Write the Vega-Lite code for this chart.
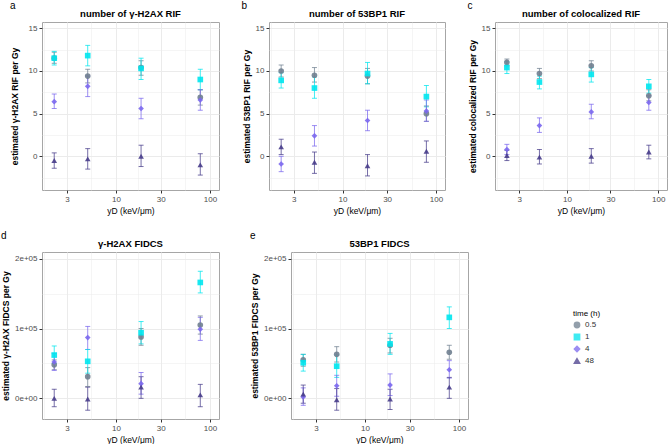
{
  "$schema": "https://vega.github.io/schema/vega-lite/v6.json",
  "padding": {"left": 1, "top": 1, "right": 0, "bottom": 0},
  "datasets": {
    "all": [
      {"p":"a","x":2.2,"t":"0.5","y":11.5,"lo":10.9,"hi":12.2},
      {"p":"a","x":2.2,"t":"1","y":11.5,"lo":10.7,"hi":12.3},
      {"p":"a","x":2.2,"t":"4","y":6.4,"lo":5.6,"hi":7.3},
      {"p":"a","x":2.2,"t":"48","y":-0.5,"lo":-1.4,"hi":0.4},
      {"p":"a","x":5,"t":"0.5","y":9.4,"lo":8.6,"hi":10.2},
      {"p":"a","x":5,"t":"1","y":11.8,"lo":10.6,"hi":13.0},
      {"p":"a","x":5,"t":"4","y":8.2,"lo":7.0,"hi":9.4},
      {"p":"a","x":5,"t":"48","y":-0.3,"lo":-1.5,"hi":0.9},
      {"p":"a","x":18.5,"t":"0.5","y":10.4,"lo":9.5,"hi":11.2},
      {"p":"a","x":18.5,"t":"1","y":10.3,"lo":9.0,"hi":11.5},
      {"p":"a","x":18.5,"t":"4","y":5.6,"lo":4.4,"hi":6.8},
      {"p":"a","x":18.5,"t":"48","y":0.0,"lo":-1.2,"hi":1.3},
      {"p":"a","x":79,"t":"0.5","y":6.9,"lo":6.0,"hi":7.8},
      {"p":"a","x":79,"t":"1","y":9.0,"lo":7.8,"hi":10.2},
      {"p":"a","x":79,"t":"4","y":6.6,"lo":5.4,"hi":7.8},
      {"p":"a","x":79,"t":"48","y":-1.0,"lo":-2.2,"hi":0.3},

      {"p":"b","x":2.2,"t":"0.5","y":10.0,"lo":9.3,"hi":10.7},
      {"p":"b","x":2.2,"t":"1","y":8.9,"lo":8.0,"hi":9.8},
      {"p":"b","x":2.2,"t":"4","y":-0.9,"lo":-1.8,"hi":0.0},
      {"p":"b","x":2.2,"t":"48","y":1.1,"lo":0.2,"hi":2.0},
      {"p":"b","x":5,"t":"0.5","y":9.5,"lo":8.7,"hi":10.4},
      {"p":"b","x":5,"t":"1","y":8.0,"lo":6.8,"hi":9.3},
      {"p":"b","x":5,"t":"4","y":2.4,"lo":1.2,"hi":3.6},
      {"p":"b","x":5,"t":"48","y":-0.7,"lo":-2.0,"hi":0.5},
      {"p":"b","x":18.5,"t":"0.5","y":9.4,"lo":8.5,"hi":10.3},
      {"p":"b","x":18.5,"t":"1","y":9.7,"lo":8.5,"hi":11.0},
      {"p":"b","x":18.5,"t":"4","y":4.2,"lo":3.0,"hi":5.4},
      {"p":"b","x":18.5,"t":"48","y":-1.1,"lo":-2.3,"hi":0.2},
      {"p":"b","x":79,"t":"0.5","y":5.0,"lo":4.1,"hi":5.9},
      {"p":"b","x":79,"t":"1","y":7.0,"lo":5.8,"hi":8.3},
      {"p":"b","x":79,"t":"4","y":5.3,"lo":4.1,"hi":6.6},
      {"p":"b","x":79,"t":"48","y":0.6,"lo":-0.7,"hi":1.8},

      {"p":"c","x":2.2,"t":"0.5","y":11.0,"lo":10.6,"hi":11.4},
      {"p":"c","x":2.2,"t":"1","y":10.4,"lo":9.7,"hi":11.1},
      {"p":"c","x":2.2,"t":"4","y":0.8,"lo":0.2,"hi":1.4},
      {"p":"c","x":2.2,"t":"48","y":0.1,"lo":-0.5,"hi":0.7},
      {"p":"c","x":5,"t":"0.5","y":9.7,"lo":9.1,"hi":10.3},
      {"p":"c","x":5,"t":"1","y":8.7,"lo":7.9,"hi":9.4},
      {"p":"c","x":5,"t":"4","y":3.6,"lo":2.8,"hi":4.5},
      {"p":"c","x":5,"t":"48","y":-0.1,"lo":-0.9,"hi":0.8},
      {"p":"c","x":18.5,"t":"0.5","y":10.6,"lo":10.0,"hi":11.2},
      {"p":"c","x":18.5,"t":"1","y":9.6,"lo":8.7,"hi":10.4},
      {"p":"c","x":18.5,"t":"4","y":5.2,"lo":4.4,"hi":6.1},
      {"p":"c","x":18.5,"t":"48","y":0.0,"lo":-0.8,"hi":0.9},
      {"p":"c","x":79,"t":"0.5","y":7.1,"lo":6.5,"hi":7.8},
      {"p":"c","x":79,"t":"1","y":8.2,"lo":7.4,"hi":9.0},
      {"p":"c","x":79,"t":"4","y":6.3,"lo":5.4,"hi":7.1},
      {"p":"c","x":79,"t":"48","y":0.5,"lo":-0.3,"hi":1.3},

      {"p":"d","x":2.2,"t":"0.5","y":48000,"lo":41000,"hi":55000},
      {"p":"d","x":2.2,"t":"1","y":62000,"lo":50000,"hi":75000},
      {"p":"d","x":2.2,"t":"4","y":52000,"lo":40000,"hi":64000},
      {"p":"d","x":2.2,"t":"48","y":0,"lo":-12000,"hi":13000},
      {"p":"d","x":5,"t":"0.5","y":31000,"lo":17000,"hi":44000},
      {"p":"d","x":5,"t":"1","y":53000,"lo":36000,"hi":70000},
      {"p":"d","x":5,"t":"4","y":87000,"lo":70000,"hi":103000},
      {"p":"d","x":5,"t":"48","y":-1000,"lo":-17000,"hi":16000},
      {"p":"d","x":18.5,"t":"0.5","y":88000,"lo":76000,"hi":100000},
      {"p":"d","x":18.5,"t":"1","y":94000,"lo":78000,"hi":110000},
      {"p":"d","x":18.5,"t":"4","y":21000,"lo":6000,"hi":37000},
      {"p":"d","x":18.5,"t":"48","y":16000,"lo":0,"hi":31000},
      {"p":"d","x":79,"t":"0.5","y":105000,"lo":92000,"hi":118000},
      {"p":"d","x":79,"t":"1","y":166000,"lo":151000,"hi":182000},
      {"p":"d","x":79,"t":"4","y":99000,"lo":83000,"hi":116000},
      {"p":"d","x":79,"t":"48","y":5000,"lo":-12000,"hi":20000},

      {"p":"e","x":2.2,"t":"0.5","y":55000,"lo":46000,"hi":63000},
      {"p":"e","x":2.2,"t":"1","y":51000,"lo":39000,"hi":63000},
      {"p":"e","x":2.2,"t":"4","y":2000,"lo":-10000,"hi":15000},
      {"p":"e","x":2.2,"t":"48","y":6000,"lo":-7000,"hi":19000},
      {"p":"e","x":5,"t":"0.5","y":63000,"lo":52000,"hi":74000},
      {"p":"e","x":5,"t":"1","y":46000,"lo":30000,"hi":62000},
      {"p":"e","x":5,"t":"4","y":18000,"lo":3000,"hi":33000},
      {"p":"e","x":5,"t":"48","y":-2000,"lo":-17000,"hi":14000},
      {"p":"e","x":18.5,"t":"0.5","y":76000,"lo":65000,"hi":86000},
      {"p":"e","x":18.5,"t":"1","y":78000,"lo":63000,"hi":93000},
      {"p":"e","x":18.5,"t":"4","y":19000,"lo":4000,"hi":35000},
      {"p":"e","x":18.5,"t":"48","y":-1000,"lo":-16000,"hi":13000},
      {"p":"e","x":79,"t":"0.5","y":66000,"lo":56000,"hi":76000},
      {"p":"e","x":79,"t":"1","y":116000,"lo":100000,"hi":131000},
      {"p":"e","x":79,"t":"4","y":41000,"lo":29000,"hi":54000},
      {"p":"e","x":79,"t":"48","y":16000,"lo":0,"hi":30000}
    ]
  },
  "spacing": 16,
  "vconcat": [
    {
      "spacing": 21,
      "hconcat": [
        {
          "title": {"text": "a", "anchor": "start", "frame": "bounds", "fontSize": 10, "fontWeight": "normal", "offset": -3},
          "vconcat": [{
            "width": 177, "height": 168,
            "title": "number of γ-H2AX RIF",
            "data": {"name": "all"},
            "transform": [{"filter": "datum.p == 'a'"}],
            "encoding": {
              "x": {"field": "x", "type": "quantitative", "scale": {"type": "log", "domain": [1.63, 125], "nice": false},
                "axis": {"title": "yD (keV/μm)", "values": [1.732, 3, 5.477, 10, 17.32, 30, 54.77, 100], "labelExpr": "indexof([3,10,30,100], datum.value) >= 0 ? '' + datum.value : ''", "tickOpacity": {"condition": {"test": "indexof([3,10,30,100], datum.value) >= 0", "value": 1}, "value": 0}, "gridWidth": {"condition": {"test": "indexof([3,10,30,100], datum.value) >= 0", "value": 1}, "value": 0.5}, "labelOverlap": false, "labelFlush": false}},
              "color": {"field": "t", "type": "nominal", "title": "time (h)", "scale": {"domain": ["0.5", "1", "4", "48"], "range": ["#708090", "#00E5EE", "#7B68EE", "#483D8B"]}}
            },
            "layer": [
              {"mark": {"type": "errorbar", "ticks": {"size": 5}, "opacity": 0.75},
               "encoding": {"y": {"field": "lo", "type": "quantitative", "scale": {"domain": [-3.95, 15.74], "nice": false, "zero": false},
                 "axis": {"title": "estimated γ-H2AX RIF per Gy", "titlePadding": 8.5, "tickCount": 20, "values": [-2.5, 0, 2.5, 5, 7.5, 10, 12.5, 15], "labelExpr": "indexof([0,5,10,15], datum.value) >= 0 ? '' + datum.value : ''", "tickOpacity": {"condition": {"test": "indexof([0,5,10,15], datum.value) >= 0", "value": 1}, "value": 0}, "gridWidth": {"condition": {"test": "indexof([0,5,10,15], datum.value) >= 0", "value": 1}, "value": 0.5}, "labelOverlap": false, "labelFlush": false}},
                 "y2": {"field": "hi"}}},
              {"mark": {"type": "point", "filled": true, "size": 32, "opacity": 0.9},
               "encoding": {"y": {"field": "y", "type": "quantitative", "title": "estimated γ-H2AX RIF per Gy"},
                 "shape": {"field": "t", "type": "nominal", "title": "time (h)", "scale": {"domain": ["0.5", "1", "4", "48"], "range": ["circle", "square", "diamond", "triangle-up"]}}}}
            ]
          }]
        },
        {
          "title": {"text": "b", "anchor": "start", "frame": "bounds", "fontSize": 10, "fontWeight": "normal", "offset": -3},
          "vconcat": [{
            "width": 176, "height": 168,
            "title": "number of 53BP1 RIF",
            "data": {"name": "all"},
            "transform": [{"filter": "datum.p == 'b'"}],
            "encoding": {
              "x": {"field": "x", "type": "quantitative", "scale": {"type": "log", "domain": [1.63, 125], "nice": false},
                "axis": {"title": "yD (keV/μm)", "values": [1.732, 3, 5.477, 10, 17.32, 30, 54.77, 100], "labelExpr": "indexof([3,10,30,100], datum.value) >= 0 ? '' + datum.value : ''", "tickOpacity": {"condition": {"test": "indexof([3,10,30,100], datum.value) >= 0", "value": 1}, "value": 0}, "gridWidth": {"condition": {"test": "indexof([3,10,30,100], datum.value) >= 0", "value": 1}, "value": 0.5}, "labelOverlap": false, "labelFlush": false}},
              "color": {"field": "t", "type": "nominal", "title": "time (h)", "scale": {"domain": ["0.5", "1", "4", "48"], "range": ["#708090", "#00E5EE", "#7B68EE", "#483D8B"]}}
            },
            "layer": [
              {"mark": {"type": "errorbar", "ticks": {"size": 5}, "opacity": 0.75},
               "encoding": {"y": {"field": "lo", "type": "quantitative", "scale": {"domain": [-3.95, 15.74], "nice": false, "zero": false},
                 "axis": {"title": "estimated 53BP1 RIF per Gy", "titlePadding": 4, "tickCount": 20, "values": [-2.5, 0, 2.5, 5, 7.5, 10, 12.5, 15], "labelExpr": "indexof([0,5,10,15], datum.value) >= 0 ? '' + datum.value : ''", "tickOpacity": {"condition": {"test": "indexof([0,5,10,15], datum.value) >= 0", "value": 1}, "value": 0}, "gridWidth": {"condition": {"test": "indexof([0,5,10,15], datum.value) >= 0", "value": 1}, "value": 0.5}, "labelOverlap": false, "labelFlush": false}},
                 "y2": {"field": "hi"}}},
              {"mark": {"type": "point", "filled": true, "size": 32, "opacity": 0.9},
               "encoding": {"y": {"field": "y", "type": "quantitative", "title": "estimated 53BP1 RIF per Gy"},
                 "shape": {"field": "t", "type": "nominal", "title": "time (h)", "scale": {"domain": ["0.5", "1", "4", "48"], "range": ["circle", "square", "diamond", "triangle-up"]}}}}
            ]
          }]
        },
        {
          "title": {"text": "c", "anchor": "start", "frame": "bounds", "fontSize": 10, "fontWeight": "normal", "offset": -3},
          "vconcat": [{
            "width": 172, "height": 168,
            "title": "number of colocalized RIF",
            "data": {"name": "all"},
            "transform": [{"filter": "datum.p == 'c'"}],
            "encoding": {
              "x": {"field": "x", "type": "quantitative", "scale": {"type": "log", "domain": [1.63, 125], "nice": false},
                "axis": {"title": "yD (keV/μm)", "values": [1.732, 3, 5.477, 10, 17.32, 30, 54.77, 100], "labelExpr": "indexof([3,10,30,100], datum.value) >= 0 ? '' + datum.value : ''", "tickOpacity": {"condition": {"test": "indexof([3,10,30,100], datum.value) >= 0", "value": 1}, "value": 0}, "gridWidth": {"condition": {"test": "indexof([3,10,30,100], datum.value) >= 0", "value": 1}, "value": 0.5}, "labelOverlap": false, "labelFlush": false}},
              "color": {"field": "t", "type": "nominal", "title": "time (h)", "scale": {"domain": ["0.5", "1", "4", "48"], "range": ["#708090", "#00E5EE", "#7B68EE", "#483D8B"]}}
            },
            "layer": [
              {"mark": {"type": "errorbar", "ticks": {"size": 5}, "opacity": 0.75},
               "encoding": {"y": {"field": "lo", "type": "quantitative", "scale": {"domain": [-3.95, 15.74], "nice": false, "zero": false},
                 "axis": {"title": "estimated colocalized RIF per Gy", "titlePadding": 4, "tickCount": 20, "values": [-2.5, 0, 2.5, 5, 7.5, 10, 12.5, 15], "labelExpr": "indexof([0,5,10,15], datum.value) >= 0 ? '' + datum.value : ''", "tickOpacity": {"condition": {"test": "indexof([0,5,10,15], datum.value) >= 0", "value": 1}, "value": 0}, "gridWidth": {"condition": {"test": "indexof([0,5,10,15], datum.value) >= 0", "value": 1}, "value": 0.5}, "labelOverlap": false, "labelFlush": false}},
                 "y2": {"field": "hi"}}},
              {"mark": {"type": "point", "filled": true, "size": 32, "opacity": 0.9},
               "encoding": {"y": {"field": "y", "type": "quantitative", "title": "estimated colocalized RIF per Gy"},
                 "shape": {"field": "t", "type": "nominal", "title": "time (h)", "scale": {"domain": ["0.5", "1", "4", "48"], "range": ["circle", "square", "diamond", "triangle-up"]}}}}
            ]
          }]
        }
      ]
    },
    {
      "spacing": 30,
      "hconcat": [
        {
          "title": {"text": "d", "anchor": "start", "frame": "bounds", "fontSize": 10, "fontWeight": "normal", "offset": -3},
          "vconcat": [{
            "width": 177, "height": 167,
            "title": "γ-H2AX FIDCS",
            "data": {"name": "all"},
            "transform": [{"filter": "datum.p == 'd'"}],
            "encoding": {
              "x": {"field": "x", "type": "quantitative", "scale": {"type": "log", "domain": [1.63, 125], "nice": false},
                "axis": {"title": "yD (keV/μm)", "values": [1.732, 3, 5.477, 10, 17.32, 30, 54.77, 100], "labelExpr": "indexof([3,10,30,100], datum.value) >= 0 ? '' + datum.value : ''", "tickOpacity": {"condition": {"test": "indexof([3,10,30,100], datum.value) >= 0", "value": 1}, "value": 0}, "gridWidth": {"condition": {"test": "indexof([3,10,30,100], datum.value) >= 0", "value": 1}, "value": 0.5}, "labelOverlap": false, "labelFlush": false}},
              "color": {"field": "t", "type": "nominal", "title": "time (h)", "scale": {"domain": ["0.5", "1", "4", "48"], "range": ["#708090", "#00E5EE", "#7B68EE", "#483D8B"]}}
            },
            "layer": [
              {"mark": {"type": "errorbar", "ticks": {"size": 5}, "opacity": 0.75},
               "encoding": {"y": {"field": "lo", "type": "quantitative", "scale": {"domain": [-29600, 209600], "nice": false, "zero": false},
                 "axis": {"title": "estimated γ-H2AX FIDCS per Gy", "titlePadding": 4, "tickCount": 20, "values": [0, 50000, 100000, 150000, 200000], "labelExpr": "datum.value == 0 ? '0e+00' : datum.value == 100000 ? '1e+05' : datum.value == 200000 ? '2e+05' : ''", "tickOpacity": {"condition": {"test": "indexof([0,100000,200000], datum.value) >= 0", "value": 1}, "value": 0}, "gridWidth": {"condition": {"test": "indexof([0,100000,200000], datum.value) >= 0", "value": 1}, "value": 0.5}, "labelOverlap": false, "labelFlush": false}},
                 "y2": {"field": "hi"}}},
              {"mark": {"type": "point", "filled": true, "size": 32, "opacity": 0.9},
               "encoding": {"y": {"field": "y", "type": "quantitative", "title": "estimated γ-H2AX FIDCS per Gy"},
                 "shape": {"field": "t", "type": "nominal", "title": "time (h)", "scale": {"domain": ["0.5", "1", "4", "48"], "range": ["circle", "square", "diamond", "triangle-up"]}}}}
            ]
          }]
        },
        {
          "title": {"text": "e", "anchor": "start", "frame": "bounds", "fontSize": 10, "fontWeight": "normal", "offset": -3},
          "vconcat": [{
            "width": 177, "height": 167,
            "title": "53BP1 FIDCS",
            "data": {"name": "all"},
            "transform": [{"filter": "datum.p == 'e'"}],
            "encoding": {
              "x": {"field": "x", "type": "quantitative", "scale": {"type": "log", "domain": [1.63, 125], "nice": false},
                "axis": {"title": "yD (keV/μm)", "values": [1.732, 3, 5.477, 10, 17.32, 30, 54.77, 100], "labelExpr": "indexof([3,10,30,100], datum.value) >= 0 ? '' + datum.value : ''", "tickOpacity": {"condition": {"test": "indexof([3,10,30,100], datum.value) >= 0", "value": 1}, "value": 0}, "gridWidth": {"condition": {"test": "indexof([3,10,30,100], datum.value) >= 0", "value": 1}, "value": 0.5}, "labelOverlap": false, "labelFlush": false}},
              "color": {"field": "t", "type": "nominal", "title": "time (h)", "scale": {"domain": ["0.5", "1", "4", "48"], "range": ["#708090", "#00E5EE", "#7B68EE", "#483D8B"]}}
            },
            "layer": [
              {"mark": {"type": "errorbar", "ticks": {"size": 5}, "opacity": 0.75},
               "encoding": {"y": {"field": "lo", "type": "quantitative", "scale": {"domain": [-29600, 209600], "nice": false, "zero": false},
                 "axis": {"title": "estimated 53BP1 FIDCS per Gy", "titlePadding": 4, "tickCount": 20, "values": [0, 50000, 100000, 150000, 200000], "labelExpr": "datum.value == 0 ? '0e+00' : datum.value == 100000 ? '1e+05' : datum.value == 200000 ? '2e+05' : ''", "tickOpacity": {"condition": {"test": "indexof([0,100000,200000], datum.value) >= 0", "value": 1}, "value": 0}, "gridWidth": {"condition": {"test": "indexof([0,100000,200000], datum.value) >= 0", "value": 1}, "value": 0.5}, "labelOverlap": false, "labelFlush": false}},
                 "y2": {"field": "hi"}}},
              {"mark": {"type": "point", "filled": true, "size": 32, "opacity": 0.9},
               "encoding": {"y": {"field": "y", "type": "quantitative", "title": "estimated 53BP1 FIDCS per Gy"},
                 "shape": {"field": "t", "type": "nominal", "title": "time (h)", "scale": {"domain": ["0.5", "1", "4", "48"], "range": ["circle", "square", "diamond", "triangle-up"]}}}}
            ]
          }]
        }
      ]
    }
  ],
  "config": {
    "font": "Liberation Sans",
    "view": {"stroke": "#a6a6a6", "strokeWidth": 1},
    "axis": {"domain": false, "tickColor": "#333333", "tickSize": 3, "labelFontSize": 8, "labelColor": "#4d4d4d", "labelPadding": 2, "titleFontSize": 8.5, "titleColor": "#000000", "gridColor": "#ebebeb"},
    "axisY": {"titleFontWeight": "bold"},
    "axisX": {"titleFontWeight": "normal", "titlePadding": 3},
    "title": {"fontSize": 9.5, "fontWeight": "bold", "color": "#000000", "offset": 4},
    "legend": {"orient": "none", "legendX": 531, "legendY": 288, "titleFontSize": 8, "titleFontWeight": "normal", "titleColor": "#000000", "labelFontSize": 8, "labelColor": "#333333", "symbolSize": 28, "rowPadding": 0, "titlePadding": 3}
  }
}
